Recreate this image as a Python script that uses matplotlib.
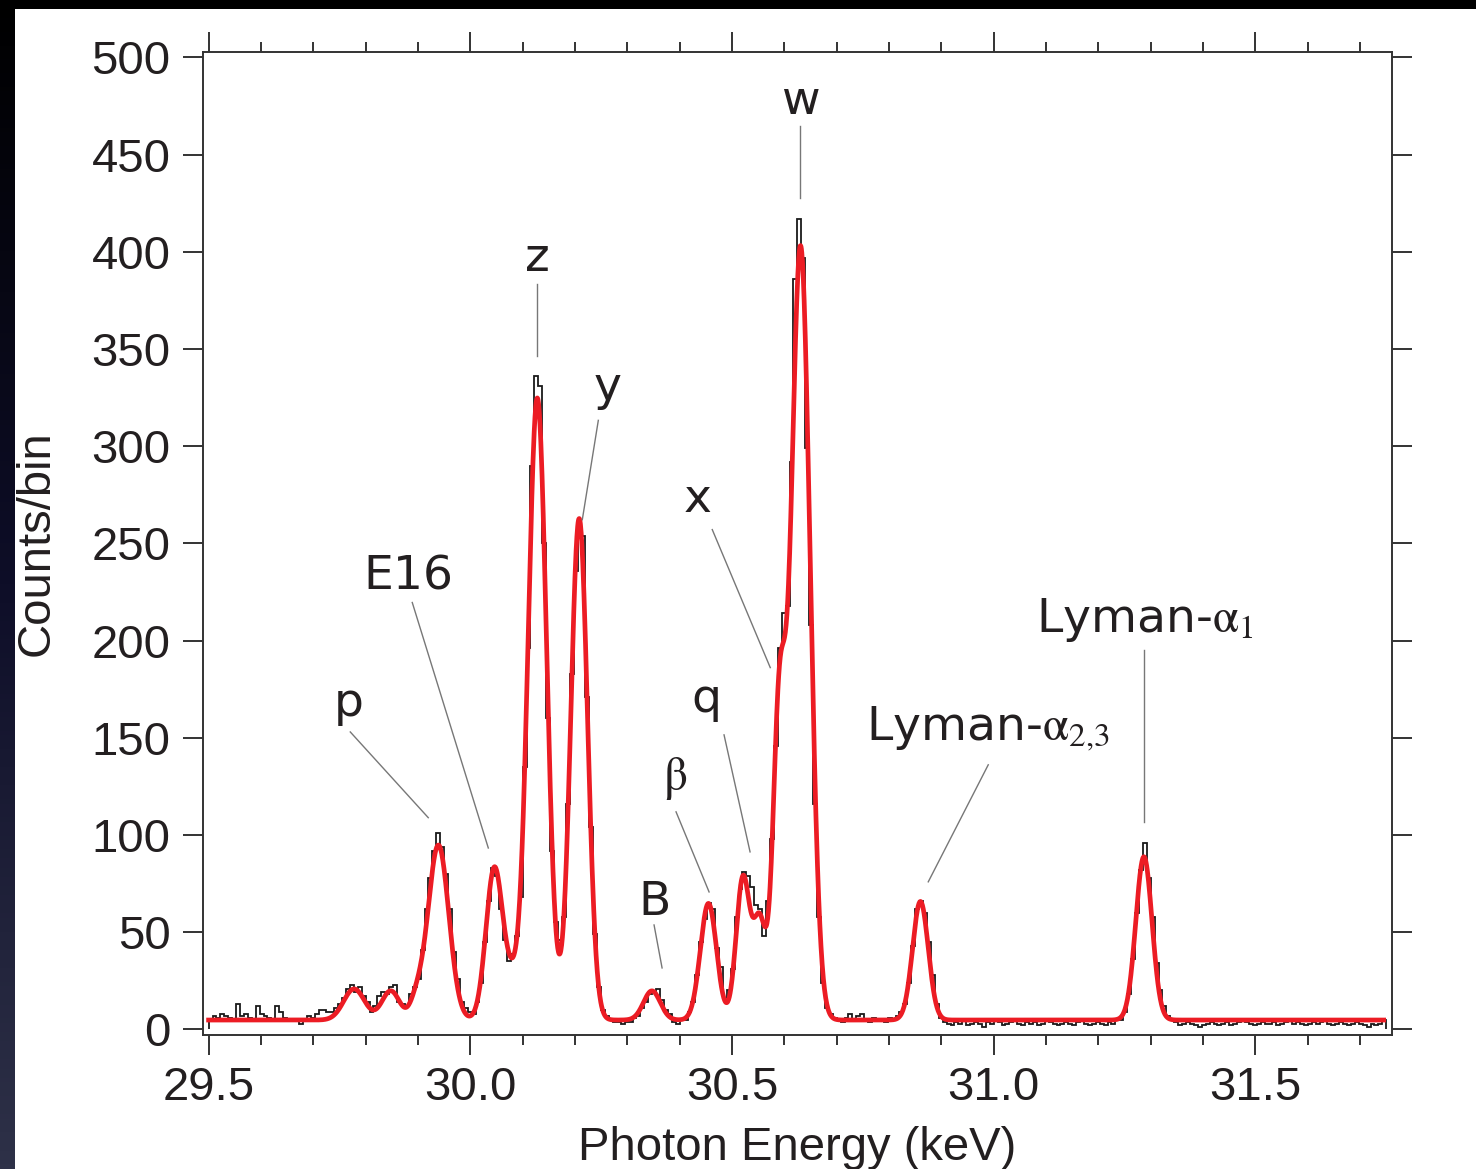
import numpy as np
import matplotlib
matplotlib.use("Agg")
import matplotlib.pyplot as plt
from matplotlib.colors import LinearSegmentedColormap
from matplotlib.patches import Rectangle
from matplotlib.ticker import MultipleLocator, FormatStrFormatter

plt.rcParams['mathtext.fontset'] = 'stix'

# measured spectrum, counts per 7.5 eV bin starting at 29.5 keV
bin_start = 29.5
bin_width = 0.0075

counts_edge = [5, 7, 6, 8, 7, 6, 5, 13, 7, 8, 6, 5, 12, 8, 7, 6, 5, 12, 9, 6,
               5, 5, 5, 3, 5, 7, 6, 8, 10, 10, 9, 9]
counts_p_e16 = [11, 13, 16, 21, 23, 19, 22, 17, 14, 9, 12, 17, 19, 18, 22, 23, 14, 13, 12, 18,
                22, 26, 41, 62, 78, 92, 101, 94, 80, 62, 40, 26, 14, 11, 9, 8, 14, 24, 45, 66]
counts_z_y = [83, 79, 62, 46, 35, 39, 48, 68, 135, 196, 290, 336, 331, 250, 160, 92, 55, 46, 58, 116,
              183, 236, 256, 254, 171, 104, 49, 22, 10, 7]
counts_b_w = [5, 4, 4, 3, 4, 4, 6, 7, 11, 14, 18, 19, 21, 15, 10, 8, 4, 3, 5, 5,
              9, 14, 28, 45, 57, 65, 62, 42, 32, 16, 20, 31, 58, 72, 81, 79, 73, 64, 62, 48,
              66, 98, 146, 196, 214, 218, 292, 386, 417, 397, 299, 208, 116, 58, 24, 11, 8, 6]
counts_ly23 = [5, 4, 6, 8, 5, 7, 8, 5, 4, 6, 5, 5, 4, 6,
               5, 7, 9, 13, 24, 43, 62, 66, 60, 45, 28, 13, 6, 4]
counts_mid = [3, 2, 4, 3, 5, 2, 3, 4, 3, 1, 4, 3, 5, 4, 2, 3, 4, 5, 3, 2,
              4, 3, 4, 2, 3, 5, 4, 3, 2, 3, 4, 3, 2, 4, 5, 3, 2, 3, 4, 3,
              2, 4, 3, 5]
counts_ly1 = [5, 9, 18, 36, 60, 82, 96, 78, 58, 34, 20, 12, 7]
counts_tail = [5, 4, 2, 3, 4, 3, 2, 1, 2, 3, 4, 3, 2, 3, 4, 2, 3, 4, 5, 4,
               3, 2, 3, 4, 3, 3, 4, 2, 3, 4, 5, 3, 4, 3, 2, 3, 4, 3, 4, 5,
               3, 2, 3, 4, 3, 2, 3, 4, 3, 2, 1, 3, 2, 3, 5]

counts = np.array(counts_edge + counts_p_e16 + counts_z_y + counts_b_w
                  + counts_ly23 + counts_mid + counts_ly1 + counts_tail, dtype=float)
edges = bin_start + bin_width * np.arange(len(counts) + 1)

# gaussian line fit: centre (keV), amplitude (counts), sigma (keV)
line_centers = [29.778, 29.848, 29.897, 29.939, 30.046, 30.080, 30.128, 30.208,
                30.347, 30.455, 30.521, 30.553, 30.590, 30.631, 30.860, 31.287]
line_amps = [16, 15, 9, 90, 78, 16, 320, 258, 15, 60, 73, 50, 150, 398, 61, 84]
line_sigmas = [0.020, 0.017, 0.012, 0.020, 0.016, 0.014, 0.0176, 0.016,
               0.016, 0.0155, 0.013, 0.012, 0.012, 0.018, 0.015, 0.0155]
background = 4.8

e_fit = np.linspace(29.5, 31.745, 3000)
fit = np.full_like(e_fit, background)
for c, a, s in zip(line_centers, line_amps, line_sigmas):
    fit += a * np.exp(-0.5 * ((e_fit - c) / s) ** 2)

W, H = 1476, 1169
fig = plt.figure(figsize=(W / 100, H / 100), dpi=100)
fig.patch.set_facecolor('white')

# dark frame edges
edge_ax = fig.add_axes([0, 0, 15 / W, 1])
edge_cmap = LinearSegmentedColormap.from_list('edge', ['#000000', '#0e0e28', '#2e3148'])
edge_ax.imshow(np.linspace(0, 1, 256).reshape(-1, 1), aspect='auto', cmap=edge_cmap,
               extent=[0, 1, 0, 1], origin='upper')
edge_ax.axis('off')
fig.add_artist(Rectangle((0, 1 - 9 / H), 1, 9 / H, transform=fig.transFigure,
                         facecolor='black', edgecolor='none'))

ax = fig.add_axes([203 / W, 1 - 1035 / H, (1392 - 203) / W, (1035 - 52) / H])
ax.stairs(counts, edges, color='#1a1a1a', lw=1.3, zorder=2)
ax.plot(e_fit, fit, color='#ec1c24', lw=3.4, zorder=3)

ax.set_xlim(29.4893, 31.761)
ax.set_ylim(-2.9, 502.8)

tick_font = 'Liberation Sans'
ax.xaxis.set_major_locator(MultipleLocator(0.5))
ax.xaxis.set_minor_locator(MultipleLocator(0.1))
ax.xaxis.set_major_formatter(FormatStrFormatter('%.1f'))
ax.yaxis.set_major_locator(MultipleLocator(50))
ax.tick_params(axis='x', which='both', direction='out', top=True, bottom=True,
               width=1.4, color='#333333')
ax.tick_params(axis='x', which='major', length=14.4, pad=8, labelsize=34, labelcolor='#231f20')
ax.tick_params(axis='x', which='minor', length=7.2)
ax.tick_params(axis='y', which='major', direction='out', left=True, right=True,
               length=14.4, width=1.4, pad=9, labelsize=34, color='#333333', labelcolor='#231f20')
for lab in ax.get_xticklabels() + ax.get_yticklabels():
    lab.set_fontfamily(tick_font)
for sp in ax.spines.values():
    sp.set_linewidth(1.4)
    sp.set_color('#333333')

fig.text(797 / W, 1 - 1160 / H, 'Photon Energy (keV)', ha='center', va='baseline',
         fontsize=34, family=tick_font, color='#231f20')
fig.text(36.5 / W, 1 - 543 / H, 'Counts/bin', ha='center', va='center', rotation=90,
         fontsize=34, family=tick_font, color='#231f20')

# line identifications: label, text anchor, pointer start, pointer end
labels = [
    ('w', 'center', (30.6305, 470.7), (30.6305, 464.9), (30.6305, 427.8)),
    ('z', 'center', (30.128, 389.9), (30.128, 383.2), (30.128, 346.6)),
    ('y', 'center', (30.2617, 324.0), (30.2446, 313.3), (30.2140, 262.2)),
    ('E16', 'center', (29.8815, 226.1), (29.8891, 219.6), (30.0344, 93.3)),
    ('p', 'center', (29.7669, 161.3), (29.7707, 153.0), (29.9197, 108.9)),
    ('B', 'center', (30.3530, 58.8), (30.3511, 53.7), (30.3664, 31.6)),
    (r'$\mathrm{\beta}$', 'center', (30.3912, 123.2), (30.3931, 111.9), (30.4562, 70.7)),
    ('q', 'center', (30.4520, 163.3), (30.4848, 151.5), (30.5345, 91.3)),
    ('x', 'center', (30.4337, 266.3), (30.4623, 257.1), (30.5731, 186.1)),
    (r'Lyman-$\mathrm{\alpha}_{2{,}3}$', 'left', (30.7560, 149.0), (30.9896, 136.1), (30.8750, 75.9)),
    (r'Lyman-$\mathrm{\alpha}_{1}$', 'left', (31.0800, 204.5), (31.2877, 195.2), (31.2877, 106.8)),
]
for text, ha, pos, p0, p1 in labels:
    ax.text(pos[0], pos[1], text, ha=ha, va='baseline', fontsize=34,
            family='DejaVu Sans', color='#231f20', zorder=4)
    ax.plot([p0[0], p1[0]], [p0[1], p1[1]], color='#777777', lw=1.0, zorder=4)

fig.savefig('out.png', dpi=100, facecolor=fig.get_facecolor())
